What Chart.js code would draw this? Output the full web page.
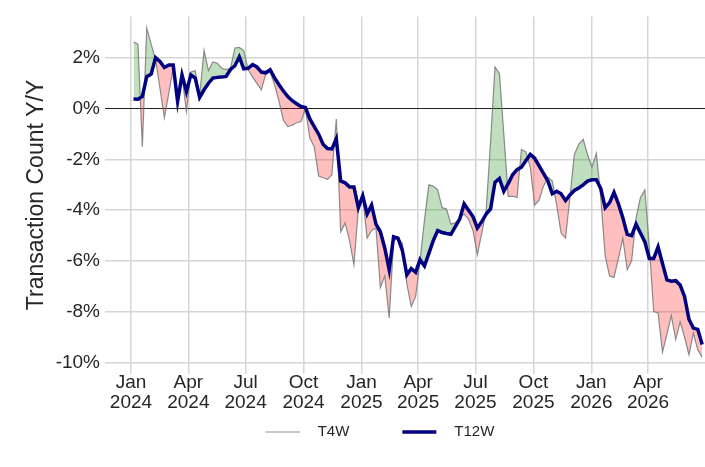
<!DOCTYPE html>
<html>
<head>
<meta charset="utf-8">
<script src="https://cdn.jsdelivr.net/npm/chart.js@4.4.0/dist/chart.umd.min.js"></script>
<style>
  html, body { margin: 0; padding: 0; background: #fff; }
</style>
</head>
<body>
<canvas id="c" width="705" height="467"></canvas>
<script>
// weekly series, first week ending Fri 5 Jan 2024
const firstDay = 4; // days after 1 Jan 2024
const weekCount = 130;

const t4w = [
  2.63, 2.55, -1.50, 3.18, 2.55, 1.95, 0.80, -0.35, 0.62, 1.60,
  0.30, 1.30, -0.10, 1.45, 1.50, 0.50, 2.30, 1.50, 1.85, 1.80,
  1.60, 1.55, 1.60, 2.40, 2.42, 2.30, 1.55, 1.25, 1.00, 0.75,
  1.38, 1.45, 0.95, 0.30, -0.45, -0.70, -0.65, -0.55, -0.50, 0.00,
  -1.15, -1.50, -2.65, -2.72, -2.78, -2.60, -0.40, -4.85, -4.50, -5.20,
  -6.15, -3.95, -3.50, -5.10, -4.80, -4.70, -7.05, -6.60, -8.25, -5.20,
  -5.10, -5.30, -6.90, -7.80, -7.40, -6.00, -4.40, -3.00, -3.05, -3.20,
  -3.90, -3.95, -4.55, -4.50, -4.30, -4.15, -4.35, -4.80, -5.75, -4.90,
  -4.00, -1.30, 1.65, 1.40, -1.00, -3.45, -3.45, -3.50, -1.60, -1.70,
  -2.30, -3.80, -3.60, -3.05, -2.70, -2.85, -3.80, -4.90, -5.10, -3.50,
  -1.80, -1.40, -1.20, -1.80, -2.30, -1.75, -3.50, -5.80, -6.60, -6.65,
  -5.90, -5.10, -6.35, -6.00, -4.30, -3.50, -3.20, -5.40, -8.00, -8.05,
  -9.60, -8.90, -8.15, -9.10, -8.40, -9.00, -9.70, -8.85, -9.50, -9.80
];

const t12w = [
  0.39, 0.38, 0.49, 1.27, 1.37, 2.02, 1.87, 1.63, 1.73, 1.73,
  0.29, 1.34, 0.68, 1.34, 1.21, 0.45, 0.75, 1.01, 1.21, 1.24,
  1.25, 1.28, 1.55, 1.70, 2.05, 1.58, 1.60, 1.74, 1.65, 1.45,
  1.42, 1.54, 1.22, 0.95, 0.70, 0.48, 0.32, 0.20, 0.09, 0.05,
  -0.40, -0.70, -1.00, -1.40, -1.57, -1.58, -1.18, -2.85, -2.92, -3.08,
  -3.08, -3.90, -3.43, -4.15, -3.80, -4.55, -4.85, -5.50, -6.35, -5.05,
  -5.10, -5.60, -6.55, -6.30, -6.45, -5.95, -6.20, -5.70, -5.20, -4.80,
  -4.88, -4.92, -4.95, -4.65, -4.35, -3.75, -4.00, -4.25, -4.70, -4.45,
  -4.15, -3.95, -2.90, -2.75, -3.25, -2.95, -2.60, -2.40, -2.30, -2.05,
  -1.80, -1.95, -2.25, -2.55, -2.85, -3.35, -3.25, -3.35, -3.62, -3.40,
  -3.22, -3.12, -3.00, -2.85, -2.80, -2.80, -3.15, -3.90, -3.70, -3.30,
  -3.75, -4.30, -4.95, -5.00, -4.55, -4.90, -5.25, -5.90, -5.90, -5.45,
  -6.10, -6.75, -6.80, -6.78, -6.95, -7.40, -8.30, -8.65, -8.70, -9.30
];

// quarter starts, in days after 1 Jan 2024
const xTickDays = [0, 91, 182, 274, 366, 456, 547, 639, 731, 821];
const xTickLabels = [
  ["Jan", "2024"], ["Apr", "2024"], ["Jul", "2024"], ["Oct", "2024"],
  ["Jan", "2025"], ["Apr", "2025"], ["Jul", "2025"], ["Oct", "2025"],
  ["Jan", "2026"], ["Apr", "2026"]
];
const yTickValues = [2, 0, -2, -4, -6, -8, -10];
const yTickLabels = ["2%", "0%", "-2%", "-4%", "-6%", "-8%", "-10%"];

const weekDays = [];
for (let i = 0; i < weekCount; i++) weekDays.push(firstDay + 7 * i);

const FONT = '"Liberation Sans", Arial, sans-serif';
const TEXT = '#262626';

const bottomLegend = {
  id: 'bottomLegend',
  afterDraw(chart) {
    const ctx = chart.ctx;
    const items = [chart.data.datasets[1], chart.data.datasets[0]];
    ctx.save();
    ctx.font = '15px ' + FONT;
    const handle = 34, gap = 18, between = 53;
    const widths = items.map(d => ctx.measureText(d.label).width);
    const total = items.length * (handle + gap) + widths.reduce((a, b) => a + b, 0) + between * (items.length - 1);
    let x = 380 - total / 2;
    const y = 432;
    items.forEach((d, i) => {
      ctx.strokeStyle = d.borderColor;
      ctx.lineWidth = d.borderWidth;
      ctx.beginPath();
      ctx.moveTo(x, y);
      ctx.lineTo(x + handle, y);
      ctx.stroke();
      x += handle + gap;
      ctx.fillStyle = TEXT;
      ctx.textBaseline = 'middle';
      ctx.fillText(d.label, x, y);
      x += widths[i] + between;
    });
    ctx.restore();
  }
};

new Chart(document.getElementById('c'), {
  type: 'line',
  data: {
    datasets: [
      {
        label: 'T12W',
        data: weekDays.map((d, i) => ({ x: d, y: t12w[i] })),
        borderColor: '#000080',
        borderWidth: 3.5,
        pointRadius: 0,
        tension: 0,
        fill: false
      },
      {
        label: 'T4W',
        data: weekDays.map((d, i) => ({ x: d, y: t4w[i] })),
        borderColor: 'rgba(120,120,120,0.85)',
        borderWidth: 1.2,
        pointRadius: 0,
        tension: 0,
        fill: {
          target: 0,
          above: 'rgba(0,128,0,0.25)',
          below: 'rgba(255,0,0,0.25)'
        }
      }
    ]
  },
  options: {
    responsive: false,
    animation: false,
    layout: { autoPadding: false, padding: { left: 0, right: 0, top: 10, bottom: 45.5 } },
    plugins: {
      legend: { display: false },
      tooltip: { enabled: false }
    },
    scales: {
      x: {
        type: 'linear',
        min: -41.3,
        max: 911.5,
        afterFit: s => { s.height = 48; },
        afterBuildTicks: s => { s.ticks = xTickDays.map(v => ({ value: v })); },
        border: { display: false },
        grid: { color: '#d6d6d6', lineWidth: 1.5, drawTicks: false },
        ticks: {
          autoSkip: false,
          maxRotation: 0,
          padding: -1,
          color: TEXT,
          font: { family: FONT, size: 19, lineHeight: 1.05 },
          callback: v => xTickLabels[xTickDays.indexOf(v)]
        }
      },
      y: {
        min: -10.44,
        max: 3.645,
        afterFit: s => { s.width = 105; },
        afterBuildTicks: s => { s.ticks = yTickValues.map(v => ({ value: v })); },
        border: { display: false },
        grid: {
          color: c => (c.tick && c.tick.value === 0 ? '#222222' : '#d6d6d6'),
          lineWidth: c => (c.tick && c.tick.value === 0 ? 1 : 1.5),
          drawTicks: false
        },
        ticks: {
          padding: 5,
          color: TEXT,
          font: { family: FONT, size: 19 },
          callback: v => yTickLabels[yTickValues.indexOf(v)]
        },
        title: {
          display: true,
          text: 'Transaction Count Y/Y',
          color: TEXT,
          font: { family: FONT, size: 23 },
          padding: { top: 23, bottom: 0 }
        }
      }
    }
  },
  plugins: [bottomLegend]
});
</script>
</body>
</html>
